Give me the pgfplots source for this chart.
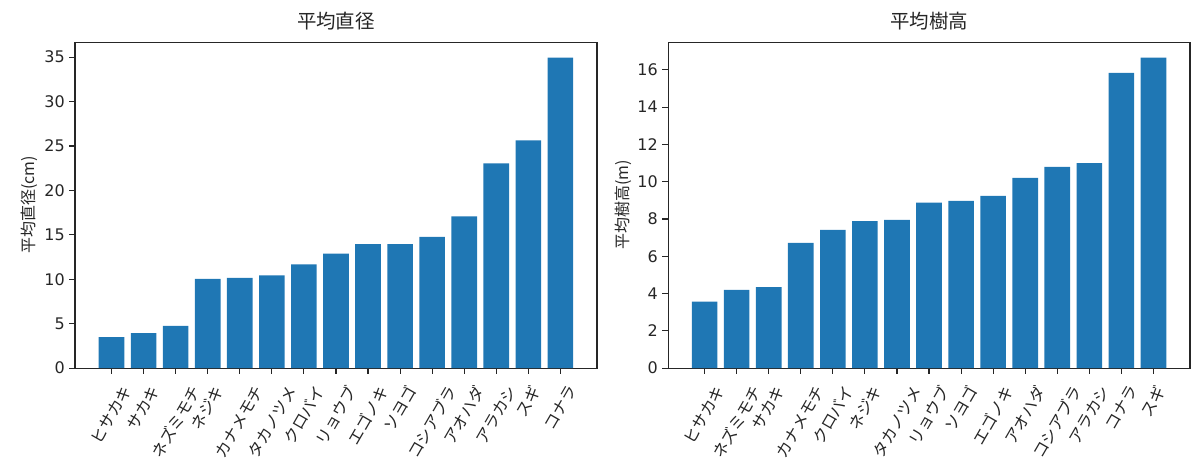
\documentclass[border=0pt]{standalone}
\usepackage{pgfplots}
\pgfplotsset{compat=1.18}
\usepackage{fontspec}
\setmainfont{Noto Sans CJK JP}
\newfontfamily\numfont{DejaVu Sans}
\definecolor{mplblue}{HTML}{1F77B4}
\definecolor{txt}{HTML}{262626}
\pgfplotsset{
  mybar/.style={
    scale only axis,
    width=375.8pt, height=234.7pt,
    anchor=south west,
    ybar, bar width=0.8,
    xmin=-1.14, xmax=15.14, ymin=0,
    xtick={0,...,14},
    xtick pos=bottom, ytick pos=left,
    tick align=outside,
    major tick length=4.2pt,
    every tick/.style={txt, line width=0.8pt},
    axis line style={line width=0.8pt, txt},
    xticklabel style={font=\fontsize{11.5}{13}\selectfont, text=txt, anchor=north, inner sep=0pt, yshift=-7pt},
    yticklabel style={font=\numfont\fontsize{11.5}{13}\selectfont, text=txt, inner sep=2pt, xshift=-1pt},
    /pgf/number format/assume math mode=true,
    title style={font=\fontsize{14}{16}\selectfont, text=txt, yshift=-1pt},
    ylabel style={font=\fontsize{11.5}{13}\selectfont, text=txt, yshift=-1pt},
    scaled y ticks=false,
  }
}
\begin{document}
\begin{tikzpicture}
\begin{axis}[mybar, at={(54pt,75pt)},
  ymax=36.7, ytick={0,5,...,35},
  title={平均直径}, ylabel={平均直径(cm)},
  xticklabels={\rotatebox{60}{ヒサカキ},\rotatebox{60}{サカキ},\rotatebox{60}{ネズミモチ},\rotatebox{60}{ネジキ},\rotatebox{60}{カナメモチ},\rotatebox{60}{タカノツメ},\rotatebox{60}{クロバイ},\rotatebox{60}{リョウブ},\rotatebox{60}{エゴノキ},\rotatebox{60}{ソヨゴ},\rotatebox{60}{コシアブラ},\rotatebox{60}{アオハダ},\rotatebox{60}{アラカシ},\rotatebox{60}{スギ},\rotatebox{60}{コナラ}},
]
\addplot[fill=mplblue, draw=none] coordinates {
 (0,3.49) (1,3.94) (2,4.76) (3,10.05) (4,10.16) (5,10.43) (6,11.67) (7,12.87)
 (8,13.95) (9,13.95) (10,14.78) (11,17.07) (12,23.03) (13,25.62) (14,34.96)};
\end{axis}
\begin{axis}[mybar, at={(481pt,75pt)},
  ymax=17.49, ytick={0,2,...,16},
  title={平均樹高}, ylabel={平均樹高(m)},
  xticklabels={\rotatebox{60}{ヒサカキ},\rotatebox{60}{ネズミモチ},\rotatebox{60}{サカキ},\rotatebox{60}{カナメモチ},\rotatebox{60}{クロバイ},\rotatebox{60}{ネジキ},\rotatebox{60}{タカノツメ},\rotatebox{60}{リョウブ},\rotatebox{60}{ソヨゴ},\rotatebox{60}{エゴノキ},\rotatebox{60}{アオハダ},\rotatebox{60}{コシアブラ},\rotatebox{60}{アラカシ},\rotatebox{60}{コナラ},\rotatebox{60}{スギ}},
]
\addplot[fill=mplblue, draw=none] coordinates {
 (0,3.56) (1,4.20) (2,4.34) (3,6.72) (4,7.42) (5,7.88) (6,7.95) (7,8.87)
 (8,8.97) (9,9.24) (10,10.21) (11,10.80) (12,10.99) (13,15.84) (14,16.66)};
\end{axis}
\pgfresetboundingbox
\path[use as bounding box] (0,0) rectangle (864pt,340pt);
\end{tikzpicture}
\end{document}
